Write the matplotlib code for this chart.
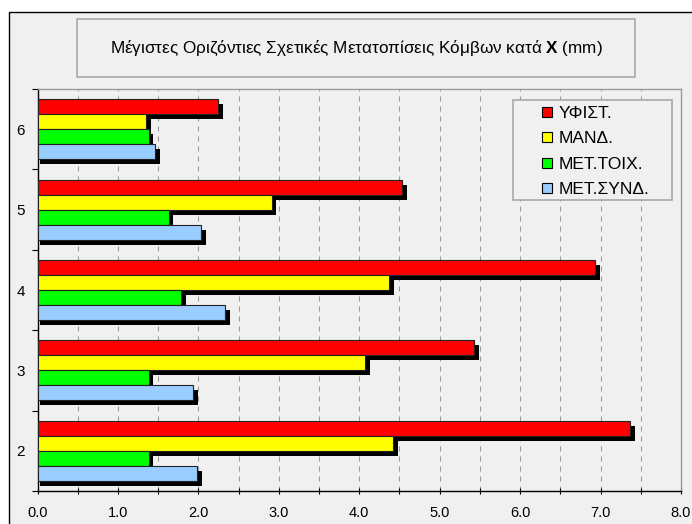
import numpy as np
import matplotlib
matplotlib.use('Agg')
import matplotlib.pyplot as plt
from matplotlib.patches import Rectangle
from matplotlib.lines import Line2D
from matplotlib.ticker import MultipleLocator, FormatStrFormatter

plt.rcParams['font.family'] = ['Liberation Sans', 'DejaVu Sans']
plt.rcParams['mathtext.fontset'] = 'custom'
plt.rcParams['mathtext.rm'] = 'Liberation Sans'
plt.rcParams['mathtext.bf'] = 'Liberation Sans:bold'

levels = ['2', '3', '4', '5', '6']
series_names = ['ΥΦΙΣΤ.', 'ΜΑΝΔ.', 'ΜΕΤ.ΤΟΙΧ.', 'ΜΕΤ.ΣΥΝΔ.']
yfist = [7.37, 5.43, 6.93, 4.53, 2.25]
mand = [4.42, 4.07, 4.37, 2.91, 1.35]
met_toix = [1.38, 1.38, 1.78, 1.63, 1.38]
met_synd = [1.98, 1.93, 2.33, 2.03, 1.46]
colors = ['#ff0000', '#ffff00', '#00ff00', '#99ccff']

bg = '#f0f0f0'
fig = plt.figure(figsize=(6.92, 5.24), dpi=100, facecolor='white')

# chart area frame (only left and top edges fall inside the image)
fig.patches.append(Rectangle((9.3 / 692, -0.05), 1.1, 1 - 12 / 524 + 0.05,
                             transform=fig.transFigure, facecolor=bg,
                             edgecolor='black', linewidth=1.0, zorder=-2))

# title box
fig.patches.append(Rectangle((77 / 692, 1 - 77 / 524), (635 - 77) / 692, 58 / 524,
                             transform=fig.transFigure, facecolor=bg,
                             edgecolor='#a8a8a8', linewidth=1.2, zorder=-1))
fig.text(356 / 692, 1 - 48 / 524,
         'Μέγιστες Οριζόντιες Σχετικές Μετατοπίσεις Κόμβων κατά $\\mathbf{X}$ (mm)',
         ha='center', va='center', fontsize=12.3)

ax = fig.add_axes([37.5 / 692, 33 / 524, 643.5 / 692, 402 / 524])
ax.set_facecolor(bg)

y = np.arange(len(levels))
h = 0.187
offsets = [1.5 * h, 0.5 * h, -0.5 * h, -1.5 * h]
data = [yfist, mand, met_toix, met_synd]
dx, dy = 0.06, 0.062

# drop shadows first, then the bars on top
for vals, off in zip(data, offsets):
    v = np.array(vals)
    ax.barh(y + off - dy, v + dx / 2, left=dx / 2, height=h,
            color='black', linewidth=0, zorder=2)
for vals, off, c in zip(data, offsets, colors):
    ax.barh(y + off, vals, height=h, color=c, edgecolor='#222222',
            linewidth=0.8, zorder=3)

ax.set_xlim(0, 8)
ax.set_ylim(-0.5, len(levels) - 0.5)

for xv in np.arange(0.5, 8, 0.5):
    ax.axvline(xv, color='#9a9a9a', linewidth=0.8, linestyle=(0, (4.5, 4.5)), zorder=1)

ax.xaxis.set_major_locator(MultipleLocator(1.0))
ax.xaxis.set_minor_locator(MultipleLocator(0.5))
ax.xaxis.set_major_formatter(FormatStrFormatter('%.1f'))
ax.tick_params(axis='x', which='both', direction='inout', length=5, width=0.8,
               labelsize=10.5, pad=8, colors='black')

ax.set_yticks(y)
ax.set_yticklabels(levels)
ax.set_yticks(np.arange(-0.5, len(levels), 1.0), minor=True)
ax.tick_params(axis='y', which='major', length=0, labelsize=11, pad=9)
ax.tick_params(axis='y', which='minor', length=4, width=0.8, direction='out')

for side in ['top', 'right']:
    ax.spines[side].set_color('#9a9a9a')
    ax.spines[side].set_linewidth(1.0)
for side in ['left', 'bottom']:
    ax.spines[side].set_color('black')
    ax.spines[side].set_linewidth(1.0)

# legend box drawn separately so the entries can sit with a wide left margin
lx0, lx1 = (513 - 37.5) / 643.5, (672 - 37.5) / 643.5
ly0, ly1 = (491 - 200) / 402, (491 - 100) / 402
ax.add_patch(Rectangle((lx0, ly0), lx1 - lx0, ly1 - ly0, transform=ax.transAxes,
                       facecolor=bg, edgecolor='#a8a8a8', linewidth=1.2, zorder=5))

handles = [Line2D([], [], marker='s', linestyle='none', markersize=7.5,
                  markerfacecolor=c, markeredgecolor='black', markeredgewidth=0.8)
           for c in colors]
leg = ax.legend(handles, series_names, loc='upper left',
                bbox_to_anchor=((541 - 37.5) / 643.5, (491 - 106) / 402),
                fontsize=12.5, frameon=False,
                handlelength=0.7, handletextpad=0.3, labelspacing=0.58,
                borderpad=0, borderaxespad=0)
leg.set_zorder(6)

fig.savefig('out.png', dpi=100, facecolor='white')
